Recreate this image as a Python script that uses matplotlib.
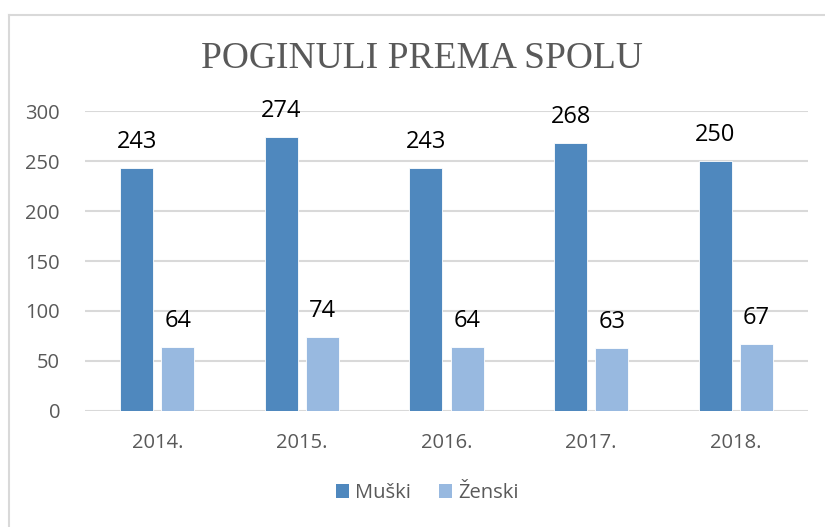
import matplotlib.pyplot as plt
import numpy as np
from matplotlib.lines import Line2D
from matplotlib.patches import Patch

# --- Data ---
years = ["2014.", "2015.", "2016.", "2017.", "2018."]
muski = [243, 274, 243, 268, 250]
zenski = [64, 74, 64, 63, 67]

# --- Style ---
COLOR_MUSKI = "#4F88BE"
COLOR_ZENSKI = "#98B9E0"
COLOR_TEXT = "#595959"
COLOR_GRID = "#D9D9D9"
FONT = ["Open Sans", "DejaVu Sans"]

plt.rcParams["font.family"] = FONT

fig = plt.figure(figsize=(8.25, 5.27), dpi=100)
ax = fig.add_axes([85 / 825, 1 - 411 / 527, 723 / 825, 300 / 527])

x = np.arange(len(years))
width = 0.228
offset = 0.142

bars_m = ax.bar(x - offset, muski, width, color=COLOR_MUSKI, edgecolor="white",
                linewidth=0.6, zorder=3)
bars_z = ax.bar(x + offset, zenski, width, color=COLOR_ZENSKI, edgecolor="white",
                linewidth=0.6, zorder=3)

for bars in (bars_m, bars_z):
    for b in bars:
        ax.annotate(f"{b.get_height():.0f}",
                    xy=(b.get_x() + b.get_width() / 2, b.get_height()),
                    xytext=(0, 10), textcoords="offset points",
                    ha="center", va="bottom", fontsize=17, color="black")

ax.set_xlim(-0.5, len(years) - 0.5)
ax.set_ylim(0, 300)
ax.set_yticks(range(0, 301, 50))
ax.set_xticks(x)
ax.set_xticklabels(years)
ax.grid(axis="y", color=COLOR_GRID, linewidth=1.5, zorder=0)
ax.set_axisbelow(True)
for s in ax.spines.values():
    s.set_visible(False)
ax.tick_params(axis="both", length=0, labelsize=14.5, labelcolor=COLOR_TEXT)
ax.tick_params(axis="x", pad=16)
ax.tick_params(axis="y", pad=18)

fig.text(0.512, 1 - 59 / 527, "POGINULI PREMA SPOLU", ha="center", va="center",
         fontsize=27, color=COLOR_TEXT, family="Liberation Serif")

handles = [Patch(facecolor=COLOR_MUSKI), Patch(facecolor=COLOR_ZENSKI)]
fig.legend(handles, ["Muški", "Ženski"], loc="center", ncol=2,
           bbox_to_anchor=(427 / 825, 1 - 493 / 527), frameon=False,
           fontsize=14.5, labelcolor=COLOR_TEXT, handlelength=0.65,
           handleheight=0.65, handletextpad=0.3, columnspacing=1.4)

# chart frame (top and left edges visible in the crop)
fig.add_artist(Line2D([8.5 / 825, 1], [1 - 14.5 / 527] * 2, color=COLOR_GRID,
                      linewidth=1.5, transform=fig.transFigure))
fig.add_artist(Line2D([8.5 / 825] * 2, [0, 1 - 14.5 / 527], color=COLOR_GRID,
                      linewidth=1.5, transform=fig.transFigure))

fig.savefig("out.png", dpi=100)
